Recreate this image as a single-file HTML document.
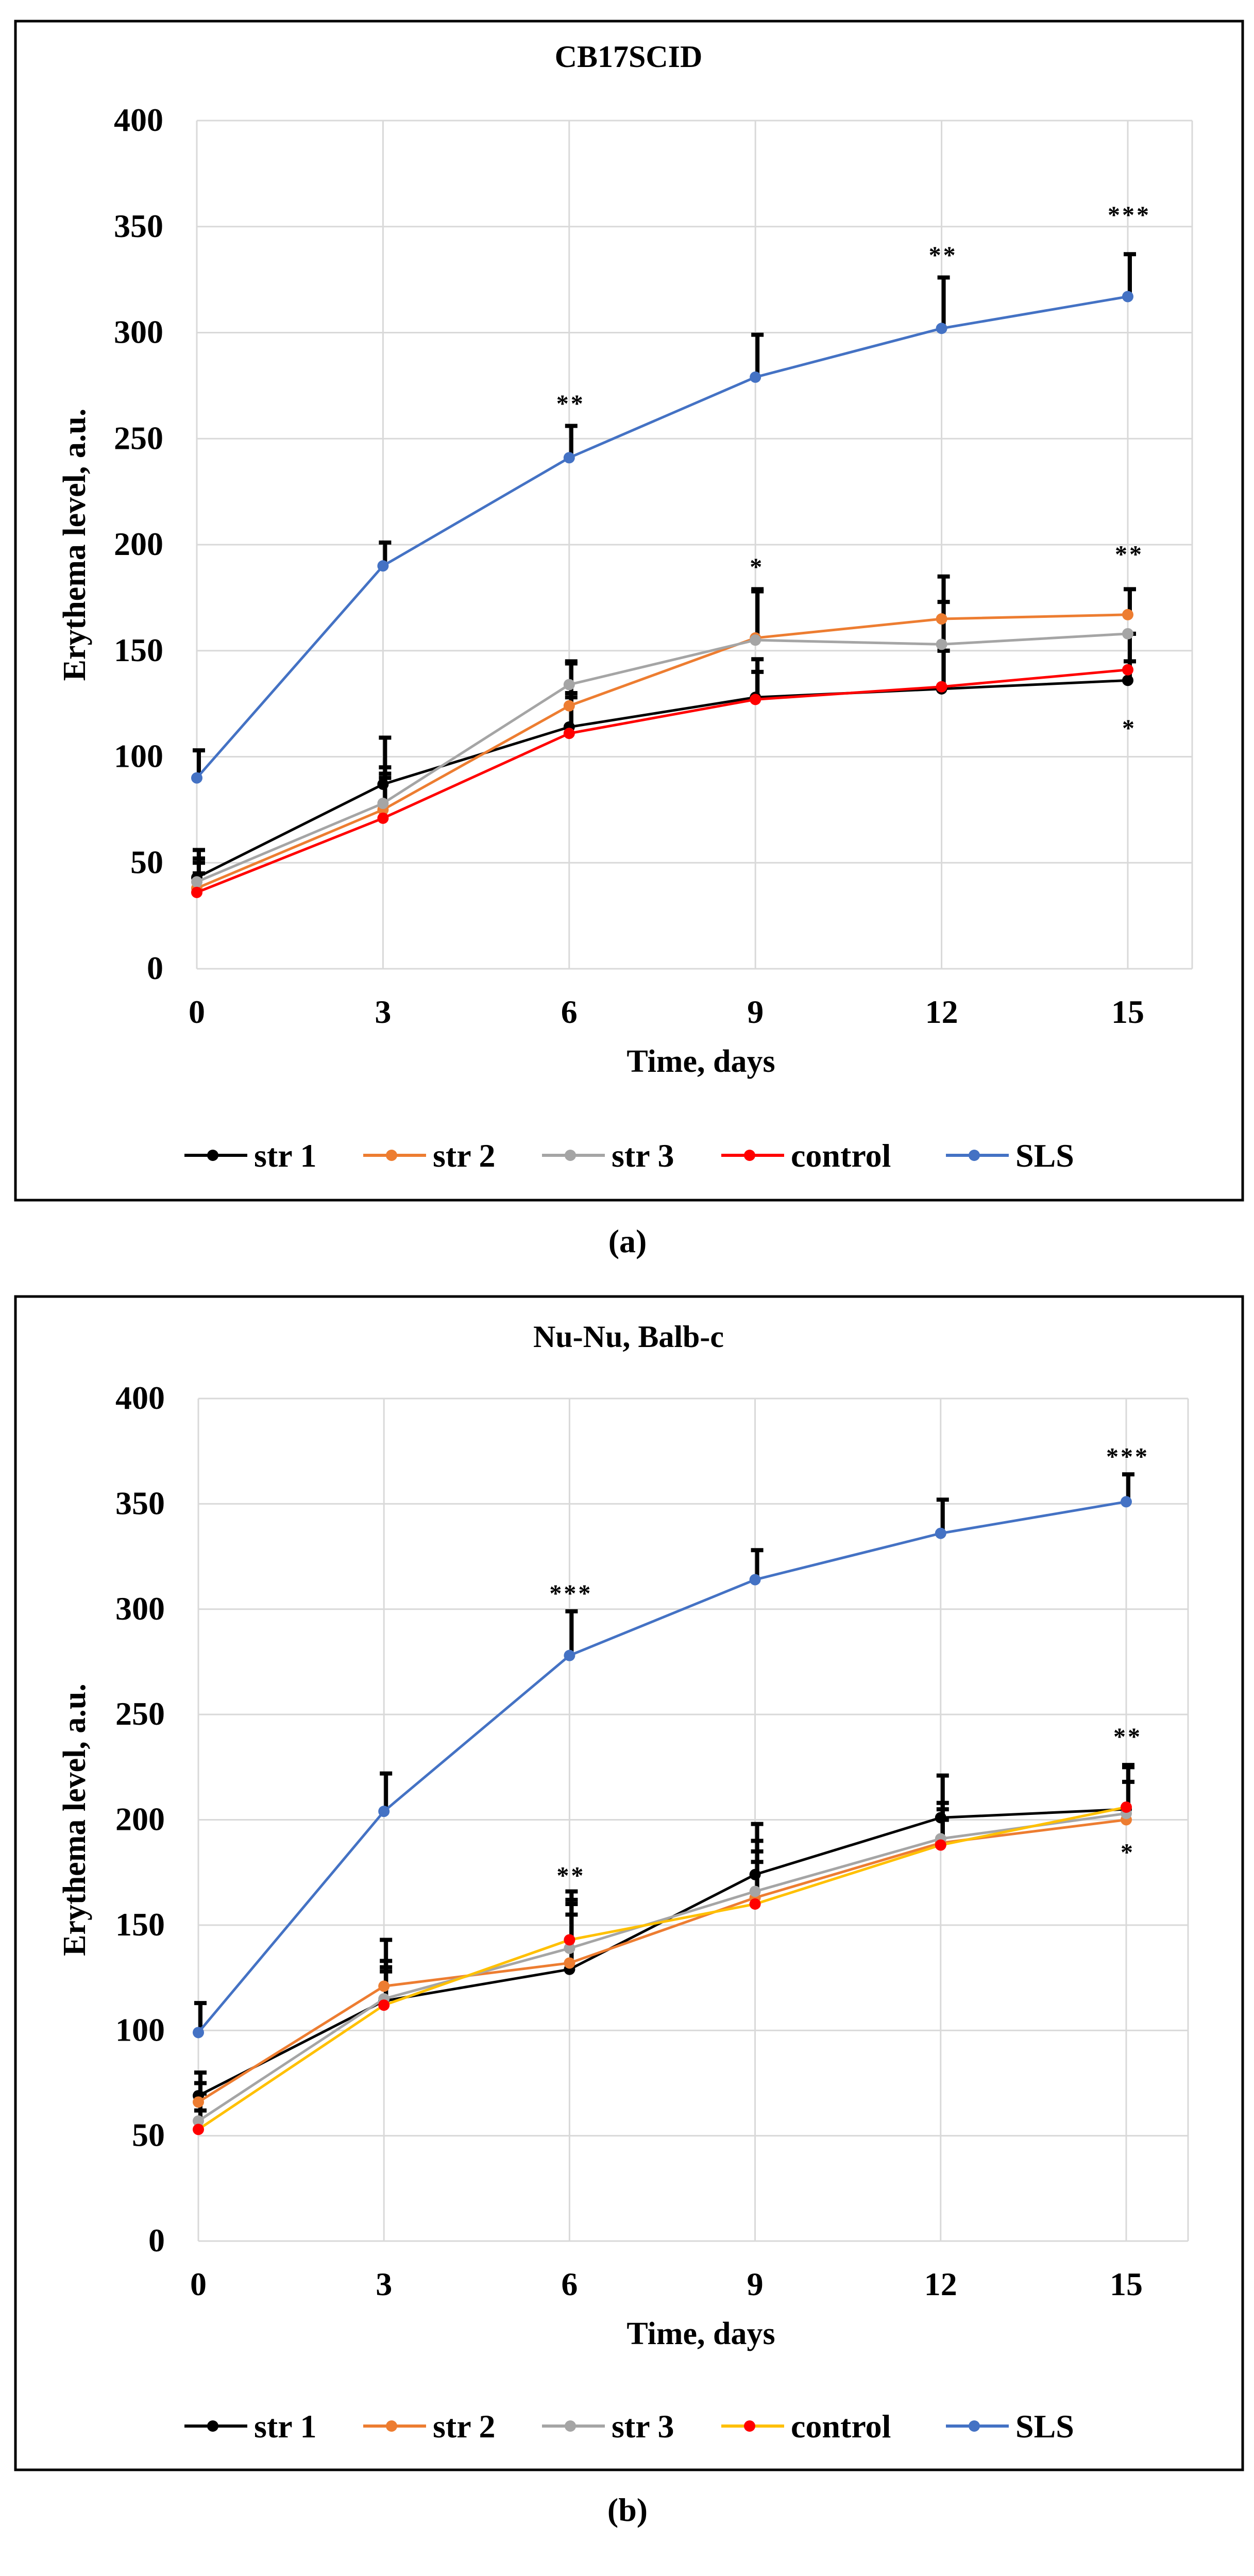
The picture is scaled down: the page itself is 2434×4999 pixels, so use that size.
<!DOCTYPE html>
<html><head><meta charset="utf-8"><style>
html,body{margin:0;padding:0;background:#fff;}
svg{display:block;}
text{font-family:"Liberation Serif",serif;font-weight:bold;fill:#000;}
</style></head><body>
<svg id="fig" width="2434" height="4999" viewBox="0 0 2434 4999" xmlns="http://www.w3.org/2000/svg"></svg>
<script>
const xCats = [0,3,6,9,12,15];
const yTicks = [0,50,100,150,200,250,300,350,400];
const seriesNames = ["str 1","str 2","str 3","control","SLS"];
// Chart A values
const aStr1 = [43,87,114,128,132,136];
const aStr2 = [38,75,124,156,165,167];
const aStr3 = [41,78,134,155,153,158];
const aCtrl = [36,71,111,127,133,141];
const aSLS = [90,190,241,279,302,317];
const aStr1Err = [56,109,130,146,150,145];
const aStr2Err = [50,92,144,179,185,179];
const aStr3Err = [52,95,145,178,173,158];
const aCtrlErr = [45,90,128,140,150,158];
const aSLSErr = [103,201,256,299,326,337];
const aStars = [[6,268,"**"],[9,191,"*"],[12,338,"**"],[15,357,"***"],[15,197,"**"],[15,115,"*"]];
// Chart B values
const bStr1 = [69,114,129,174,201,205];
const bStr2 = [66,121,132,163,189,200];
const bStr3 = [57,115,139,166,191,203];
const bCtrl = [53,112,143,160,188,206];
const bSLS = [99,204,278,314,336,351];
const bStr1Err = [80,143,166,198,221,225];
const bStr2Err = [75,133,160,190,205,226];
const bStr3Err = [70,130,155,185,208,218];
const bCtrlErr = [62,128,162,180,200,226];
const bSLSErr = [113,222,299,328,352,364];
const bStars = [[6,309,"***"],[15,374,"***"],[6,175,"**"],[15,241,"**"],[15,186,"*"]];

const NS="http://www.w3.org/2000/svg";
const svg=document.getElementById('fig');
function mk(tag,attrs,parent,txt){const e=document.createElementNS(NS,tag);for(const k in attrs)e.setAttribute(k,attrs[k]);if(txt!==undefined)e.textContent=txt;(parent||svg).appendChild(e);return e;}

function chart(cfg){
  const g=mk('g',{});
  
  
  const xs=v=>cfg.x0+(v-0)/15*(cfg.x15-cfg.x0);
  const ys=v=>cfg.y0+(v/400)*(cfg.y400-cfg.y0);
  const box=mk('rect',{x:cfg.bx,y:cfg.by,width:cfg.bw,height:cfg.bh,fill:'none',stroke:'#000','stroke-width':5},g);
  
  
  const t=mk('text',{x:1220,y:cfg.titleY,'text-anchor':'middle','font-size':60},g,cfg.title);
  
  
  // grid
  yTicks.forEach(v=>{
    const l=mk('line',{x1:cfg.x0,x2:cfg.xr,y1:ys(v),y2:ys(v),stroke:'#d9d9d9','stroke-width':3},g);
    
    
    const tx=mk('text',{x:cfg.x0-65,y:ys(v)+20,'text-anchor':'end','font-size':64},g,String(v));
    
    
  });
  xCats.forEach(v=>{
    const l=mk('line',{x1:xs(v),x2:xs(v),y1:ys(0),y2:ys(400),stroke:'#d9d9d9','stroke-width':3},g);
    
    
    const tx=mk('text',{x:xs(v),y:ys(0)+105,'text-anchor':'middle','font-size':64},g,String(v));
    
    
  });
  const rl=mk('line',{x1:cfg.xr,x2:cfg.xr,y1:ys(0),y2:ys(400),stroke:'#d9d9d9','stroke-width':3},g);
  
  
  const xt=mk('text',{x:(cfg.x0+cfg.x15)/2+75,y:ys(0)+200,'text-anchor':'middle','font-size':62},g,'Time, days');
  
  
  const ty=(ys(0)+ys(400))/2;
  const yt=mk('text',{x:0,y:0,'text-anchor':'middle','font-size':62,transform:`translate(165,${ty}) rotate(-90)`},g,'Erythema level, a.u.');
  
  
  // error bars
  cfg.series.forEach(s=>{
    s.vals.forEach((v,i)=>{
      const x=xs(xCats[i]);
      const eb=mk('line',{x1:x+4,x2:x+4,y1:ys(v),y2:ys(s.err[i]),stroke:'#000','stroke-width':8},g);
      
      
      const cp=mk('line',{x1:x-8,x2:x+16,y1:ys(s.err[i]),y2:ys(s.err[i]),stroke:'#000','stroke-width':8},g);
      
      
    });
  });
  // lines
  cfg.series.forEach(s=>{
    const pts=s.vals.map((v,i)=>xs(xCats[i])+','+ys(v)).join(' ');
    const pl=mk('polyline',{points:pts,fill:'none',stroke:s.line,'stroke-width':5,'stroke-linejoin':'round'},g);
    
    
    s.vals.forEach((v,i)=>{
      const c=mk('circle',{cx:xs(xCats[i]),cy:ys(v),r:11,fill:s.mark},g);
      
      
    });
  });
  cfg.stars.forEach(st=>{
    const tx=mk('text',{x:xs(st[0])+3,y:ys(st[1])+22,'text-anchor':'middle','font-size':48,'font-weight':'normal','letter-spacing':4},g,st[2]);
    
    
  });
  // legend
  const lx=[358,705,1052,1400,1836];
  cfg.series.forEach((s,i)=>{
    const lg=mk('g',{},g);
    
    
    mk('line',{x1:lx[i],x2:lx[i]+122,y1:cfg.legY,y2:cfg.legY,stroke:s.line,'stroke-width':6},lg);
    mk('circle',{cx:lx[i]+55,cy:cfg.legY,r:11,fill:s.mark},lg);
    mk('text',{x:lx[i]+135,y:cfg.legY+22,'font-size':64},lg,seriesNames[i]);
  });
  const lab=mk('text',{x:1218,y:cfg.labY,'text-anchor':'middle','font-size':64,'font-weight':'normal'},g,'');
  
  
  mk('tspan',{},lab,'(');
  mk('tspan',{'font-weight':'bold'},lab,cfg.lab);
  mk('tspan',{},lab,')');
}

chart({name:'chart-a',title:'CB17SCID',bx:30,by:41,bw:2382,bh:2288,titleY:130,x0:382,x15:2189,xr:2314,y0:1880,y400:234,legY:2242,labY:2430,lab:'a',
  series:[{key:'str1',vals:aStr1,err:aStr1Err,line:'#000',mark:'#000'},
          {key:'str2',vals:aStr2,err:aStr2Err,line:'#ED7D31',mark:'#ED7D31'},
          {key:'str3',vals:aStr3,err:aStr3Err,line:'#A5A5A5',mark:'#A5A5A5'},
          {key:'control',vals:aCtrl,err:aCtrlErr,line:'#FF0000',mark:'#FF0000'},
          {key:'sls',vals:aSLS,err:aSLSErr,line:'#4472C4',mark:'#4472C4'}],
  stars:aStars});
chart({name:'chart-b',title:'Nu-Nu, Balb-c',bx:30,by:2516,bw:2382,bh:2277,titleY:2614,x0:385,x15:2186,xr:2306,y0:4349,y400:2714,legY:4708,labY:4892,lab:'b',
  series:[{key:'str1',vals:bStr1,err:bStr1Err,line:'#000',mark:'#000'},
          {key:'str2',vals:bStr2,err:bStr2Err,line:'#ED7D31',mark:'#ED7D31'},
          {key:'str3',vals:bStr3,err:bStr3Err,line:'#A5A5A5',mark:'#A5A5A5'},
          {key:'control',vals:bCtrl,err:bCtrlErr,line:'#FFC000',mark:'#FF0000'},
          {key:'sls',vals:bSLS,err:bSLSErr,line:'#4472C4',mark:'#4472C4'}],
  stars:bStars});
</script>
</body></html>
